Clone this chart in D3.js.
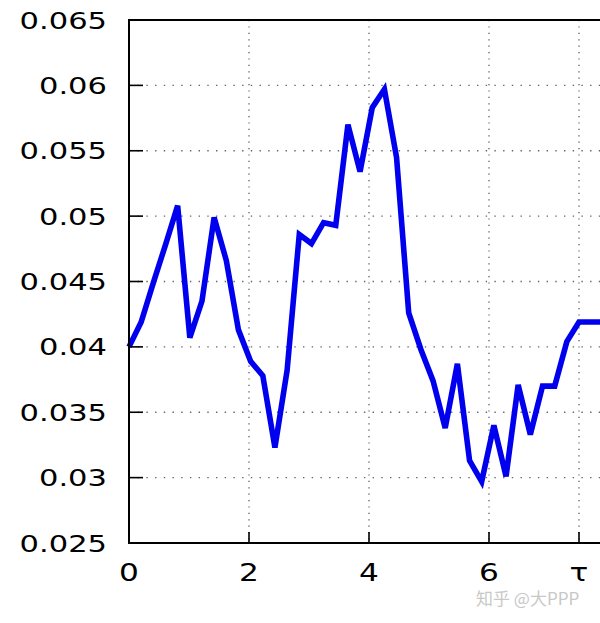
<!DOCTYPE html>
<html>
<head>
<meta charset="utf-8">
<script src="https://cdn.jsdelivr.net/npm/d3@7/dist/d3.min.js"></script>
<style>
  html, body { margin: 0; padding: 0; background: #fff; overflow: hidden; }
  svg { display: block; }
</style>
</head>
<body>
<svg id="chart" width="600" height="623"></svg>
<script>
// ---- data ----
const tValues = [0, 0.203, 0.405, 0.608, 0.811, 1.014, 1.216, 1.419, 1.622, 1.824,
  2.027, 2.230, 2.432, 2.635, 2.838, 3.041, 3.243, 3.446, 3.649, 3.851,
  4.054, 4.257, 4.459, 4.662, 4.865, 5.068, 5.270, 5.473, 5.676, 5.878,
  6.081, 6.284, 6.486, 6.689, 6.892, 7.095, 7.297, 7.5, 8];
const seriesValues = [0.0400, 0.0419, 0.0449, 0.0478, 0.0508, 0.0407, 0.0435, 0.0499, 0.0466, 0.0413,
  0.0389, 0.0378, 0.0323, 0.0382, 0.0486, 0.0479, 0.0495, 0.0493, 0.0570, 0.0534,
  0.0583, 0.0597, 0.0545, 0.0426, 0.0398, 0.0374, 0.0338, 0.0387, 0.0313, 0.0297,
  0.0340, 0.0301, 0.0371, 0.0333, 0.0370, 0.0370, 0.0404, 0.0419, 0.0419];
const xTickValues = [0, 2, 4, 6, 7.5];
const xTickLabels = ["0", "2", "4", "6", "τ"];
const yTickValues = [0.025, 0.03, 0.035, 0.04, 0.045, 0.05, 0.055, 0.06, 0.065];
const yTickLabels = ["0.025", "0.03", "0.035", "0.04", "0.045", "0.05", "0.055", "0.06", "0.065"];

// ---- layout ----
const svg = d3.select("#chart");
const padL = 129, padT = 20, axisB = 543;
const x = d3.scaleLinear().domain([0, 8]).range([padL, padL + 480]);
const y = d3.scaleLinear().domain([0.025, 0.065]).range([axisB, padT]);
const fontFamily = "'DejaVu Sans', Verdana, sans-serif";
const fs = 23.5;

// gridlines
const grid = svg.append("g");
grid.selectAll("line.h").data(yTickValues.slice(1, -1)).enter().append("line")
  .attr("x1", padL).attr("x2", 600)
  .attr("y1", d => y(d)).attr("y2", d => y(d))
  .attr("stroke", "#666").attr("stroke-width", 1.4)
  .attr("stroke-dasharray", "1.4,7.3");
grid.selectAll("line.v").data(xTickValues.slice(1)).enter().append("line")
  .attr("x1", d => x(d)).attr("x2", d => x(d))
  .attr("y1", padT).attr("y2", axisB)
  .attr("stroke", "#666").attr("stroke-width", 1.4)
  .attr("stroke-dasharray", "1.2,5.2");

// data line
const line = d3.line().x((d, i) => x(tValues[i])).y(d => y(d));
svg.append("path").datum(seriesValues)
  .attr("d", line)
  .attr("fill", "none")
  .attr("stroke", "#0000ee")
  .attr("stroke-width", 5.6)
  .attr("stroke-linejoin", "miter");

// axes frame
const frame = svg.append("g").attr("stroke", "#000").attr("stroke-width", 2);
frame.append("line").attr("x1", padL).attr("x2", padL).attr("y1", padT - 1).attr("y2", axisB + 1);
frame.append("line").attr("x1", padL - 1).attr("x2", 600).attr("y1", axisB).attr("y2", axisB);
frame.append("line").attr("x1", padL - 1).attr("x2", 600).attr("y1", padT).attr("y2", padT);

// ticks
svg.append("g").selectAll("line").data(yTickValues.slice(1, -1)).enter().append("line")
  .attr("x1", padL).attr("x2", padL + 14)
  .attr("y1", d => y(d)).attr("y2", d => y(d))
  .attr("stroke", "#000").attr("stroke-width", 1.6);
svg.append("g").selectAll("line").data(xTickValues.slice(1)).enter().append("line")
  .attr("x1", d => x(d)).attr("x2", d => x(d))
  .attr("y1", axisB).attr("y2", axisB - 11)
  .attr("stroke", "#000").attr("stroke-width", 1.6);

// tick labels
svg.append("g").selectAll("text").data(yTickValues).enter().append("text")
  .attr("transform", d => `translate(107,${y(d) + 8.5}) scale(1.3,1)`)
  .attr("text-anchor", "end")
  .attr("font-family", fontFamily).attr("font-size", fs)
  .attr("fill", "#000")
  .text((d, i) => yTickLabels[i]);
svg.append("g").selectAll("text").data(xTickValues).enter().append("text")
  .attr("transform", d => `translate(${x(d)},${581}) scale(1.3,1)`)
  .attr("text-anchor", "middle")
  .attr("font-family", fontFamily).attr("font-size", fs + 0.5)
  .attr("fill", "#000")
  .text((d, i) => xTickLabels[i]);

// watermark
svg.append("text")
  .attr("x", 476).attr("y", 605)
  .attr("font-family", "'Noto Sans CJK SC', sans-serif")
  .attr("font-size", 17)
  .attr("fill", "#c8c8c8")
  .text("知乎 @大PPP");
</script>
</body>
</html>
